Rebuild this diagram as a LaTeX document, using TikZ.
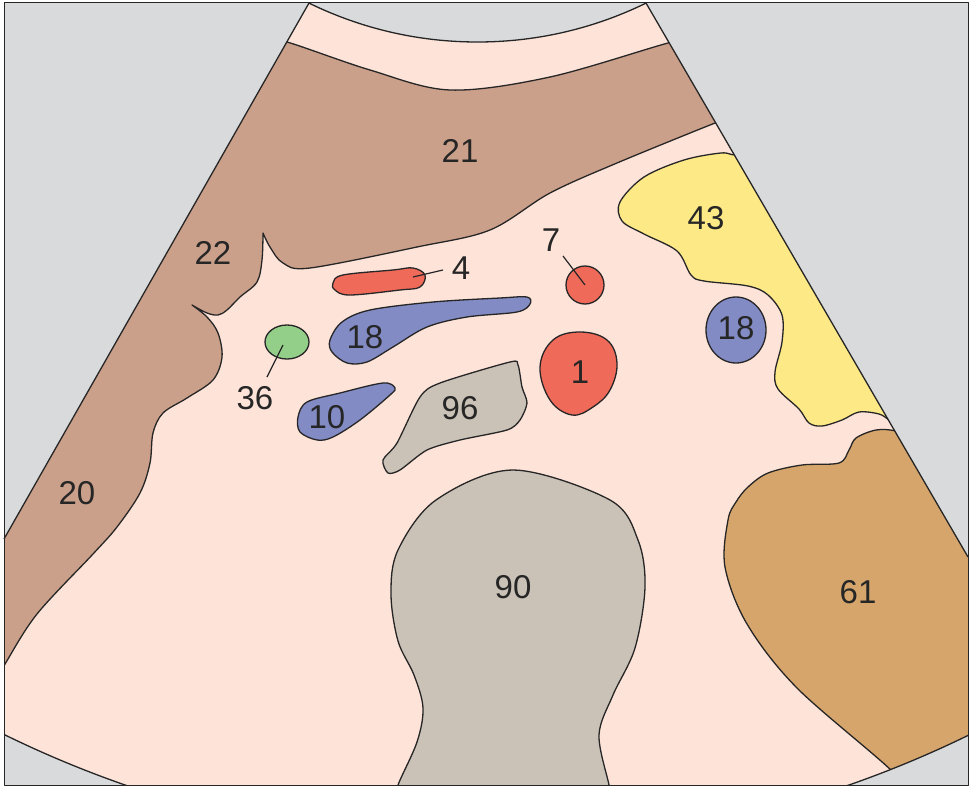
\documentclass[tikz,border=0pt]{standalone}
\usepackage{fontspec}
\setmainfont{Liberation Sans}
\definecolor{bggray}{HTML}{D9DADC}
\definecolor{pinkc}{HTML}{FDE3D8}
\definecolor{brownc}{HTML}{CBA08A}
\definecolor{redc}{HTML}{F06A5A}
\definecolor{bluec}{HTML}{828BC4}
\definecolor{greenc}{HTML}{94CF8A}
\definecolor{beigec}{HTML}{CAC1B7}
\definecolor{yellowc}{HTML}{FEE987}
\definecolor{tanc}{HTML}{D6A56B}
\begin{document}
\begin{tikzpicture}[x=1pt,y=-1pt,line width=1.3pt,line join=round,
  organ/.style={draw=black!85},
  lbl/.style={font=\fontsize{33}{33}\selectfont,text=black!85,inner sep=0pt},
  leader/.style={draw=black!85,line width=1.2pt}]
\useasboundingbox (0,0) rectangle (971,792);
\fill[white] (0,0) rectangle (971,792);
\fill[bggray] (4,3) rectangle (968,785);
\begin{scope}
\clip (309,3)--(4,539)--(4,785)--(968,785)--(968,557)--(646,3)--cycle;
\clip (487,-253) circle (1099);
\fill[pinkc] (0,0) rectangle (971,792);
% brown 21/22/20
\path[organ,fill=brownc] plot[smooth,tension=0.55] coordinates {(270,42)(287,42)(370,70)(450,90)(550,77)(668,43)(690,40)}
 -- (760,100) -- plot[smooth,tension=0.55] coordinates {(730,118)(715,123)(617,163)(550,193)(490,230)(417,247)(310,268)(283,263)(270,247)(263,233)}
 -- plot[smooth,tension=0.55] coordinates {(263,233)(262,260)(257,282)(240,297)(227,310)(218,315)(207,313)(192,305)}
 -- plot[smooth,tension=0.55] coordinates {(192,305)(207,317)(218,333)(222,357)(213,380)(187,398)(163,413)(153,433)(150,463)(140,493)(117,527)(93,554)(37,614)(5,664)(-10,690)}
 -- (-50,690) -- (-50,42) -- cycle;
% 43
\path[organ,fill=yellowc] plot[smooth,tension=0.55] coordinates {(760,154)(735,155)(721,153)(684,160)(644,177)(620,202)(622,221)(644,234)(677,251)(691,275)(704,281)(748,286)(768,295)(782,315)(782,342)(775,372)(778,389)(799,409)(809,423)(822,426)(842,420)(859,412)(879,414)(889,420)(900,428)}
 -- (1000,430) -- (1000,150) -- cycle;
% 61
\path[organ,fill=tanc] plot[smooth,tension=0.55] coordinates {(920,440)(896,431)(876,430)(856,438)(849,450)(839,463)(802,465)(768,473)(748,487)(736,502)(728,520)(725,567)(747,624)(797,688)(893,772)(910,800)}
 -- (1000,800) -- (1000,440) -- cycle;
% 90
\path[organ,fill=beigec] plot[smooth,tension=0.55] coordinates {(396,800)(398,785)(417,742)(423,708)(414,675)(398,641)(391,594)(398,550)(436,500)(513,470)(610,500)(638,540)(645,587)(635,648)(613,695)(599,735)(609,785)(611,800)} -- cycle;
% 96
\path[organ,fill=beigec] plot[smooth cycle,tension=0.45] coordinates {(383,460)(397,443)(420,397)(440,383)(510,362)(518,365)(522,387)(527,403)(520,420)(507,430)(460,440)(427,450)(400,470)(388,473)};
% 18 left
\path[organ,fill=bluec] plot[smooth cycle,tension=0.55] coordinates {(330,340)(342,322)(370,310)(433,302)(500,298)(527,297)(530,304)(517,312)(467,317)(427,327)(393,347)(367,362)(347,363)(332,352)};
% 10
\path[organ,fill=bluec] plot[smooth cycle,tension=0.55] coordinates {(298,417)(307,402)(340,393)(383,383)(395,388)(390,395)(360,420)(333,437)(317,440)(300,432)};
% 4
\path[organ,fill=redc] plot[smooth cycle,tension=0.6] coordinates {(333,283)(343,275)(393,270)(413,268)(425,275)(420,287)(400,290)(350,295)(335,290)};
% 1
\path[organ,fill=redc] plot[smooth cycle,tension=0.65] coordinates {(540,367)(553,340)(580,332)(607,340)(617,363)(610,390)(593,407)(572,415)(550,400)};
% 7
\path[organ,fill=redc] (585,285) circle (19);
% 36
\path[organ,fill=greenc] (287,342) ellipse (22 and 17);
% 18 right
\path[organ,fill=bluec] (736,330) ellipse (30 and 33);
% top cap
\path[organ,fill=bggray] (477.5,-341.5) circle (383.5);
\end{scope}
% sector edges
\draw[black!85] (309,3)--(4,539);
\draw[black!85] (646,3)--(968,557);
\begin{scope}
\clip (4,3) rectangle (968,785);
\clip (309,3)--(4,539)--(4,785)--(968,785)--(968,557)--(646,3)--cycle;
\draw[black!85] (487,-253) circle (1099);
\end{scope}
\draw[black!85,line width=1pt] (4,3) rectangle (968,785);
% labels and leaders
\coordinate (l4a) at (413,277); \coordinate (l4b) at (443,270);
\draw[leader] (l4a) -- (l4b);
\coordinate (l7a) at (585,285); \coordinate (l7b) at (563,256);
\draw[leader] (l7a) -- (l7b);
\coordinate (l36a) at (283,345); \coordinate (l36b) at (267,377);
\draw[leader] (l36a) -- (l36b);
\node[lbl] (t21) at (460,151) {21};
\node[lbl] (t22) at (213,253) {22};
\node[lbl] (t20) at (77,493) {20};
\node[lbl] (t4) at (461,268) {4};
\node[lbl] (t7) at (551,240) {7};
\node[lbl] (t43) at (706,218) {43};
\node[lbl] (t18a) at (365,337) {18};
\node[lbl] (t18b) at (736,328) {18};
\node[lbl] (t36) at (255,398) {36};
\node[lbl] (t10) at (327,417) {10};
\node[lbl] (t96) at (460,408) {96};
\node[lbl] (t1) at (580,372) {1};
\node[lbl] (t90) at (513,587) {90};
\node[lbl] (t61) at (858,592) {61};
\end{tikzpicture}
\end{document}
